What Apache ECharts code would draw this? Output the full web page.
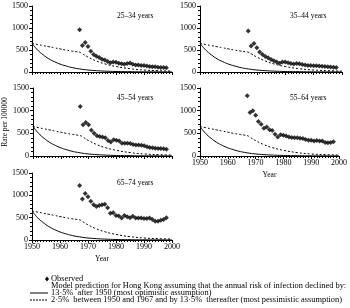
<!DOCTYPE html>
<html>
<head>
<meta charset="utf-8">
<script src="https://cdn.jsdelivr.net/npm/echarts@6/dist/echarts.min.js"></script>
<style>
  html, body { margin: 0; padding: 0; background: #fff; }
  #chart { width: 350px; height: 308px; }
</style>
</head>
<body>
<div id="chart"></div>
<script>
// observed years
const obsYears = [1967,1968,1969,1970,1971,1972,1973,1974,1975,1976,1977,1978,1979,1980,1981,1982,
  1983,1984,1985,1986,1987,1988,1989,1990,1991,1992,1993,1994,1995,1996,1997,1998];

// observed rates per 100000 for each age group
const obs2534 = [960,600,670,580,470,400,360,330,290,270,240,210,230,220,200,185,175,195,205,175,160,160,145,145,135,125,120,120,110,105,100,95];
const obs3544 = [930,590,650,550,455,395,355,325,285,255,230,200,225,230,210,195,180,195,190,170,160,150,150,140,140,135,130,125,120,115,110,105];
const obs4554 = [1090,690,740,690,570,500,445,430,420,400,340,310,360,350,330,280,280,280,275,255,240,240,235,225,205,190,180,170,165,165,160,150];
const obs5564 = [1330,960,1000,900,760,700,610,640,580,560,480,420,470,460,440,420,410,405,400,390,385,365,350,345,330,340,330,330,300,295,300,315];
const obs6574 = [1220,920,1040,970,870,790,750,770,790,800,720,600,610,550,540,490,550,520,500,530,490,490,490,480,480,490,460,420,420,440,460,500];

// model predictions (same in every panel)
const modelYears = [1950,1952,1954,1956,1958,1960,1962,1964,1966,1967,1968,1970,1973,1976,1980,1985,1990,1995,2000];
const optimistic = [650,500,390,300,235,180,140,105,80,70,60,45,30,20,12,7,4,3,2];
const pessimistic = [650,625,600,575,550,525,500,478,460,450,415,340,250,185,125,75,45,30,20];

const panelTitles = ['25\u201334 years','35\u201344 years','45\u201354 years','55\u201364 years','65\u201374 years'];
const panelObs = [obs2534, obs3544, obs4554, obs5564, obs6574];

const FONT = 'Liberation Serif, Times New Roman, serif';

const grids = [
  {left: 32, top: 6, width: 140, height: 66},
  {left: 200, top: 6, width: 142, height: 66},
  {left: 32, top: 88, width: 140, height: 68},
  {left: 200, top: 88, width: 142, height: 68},
  {left: 32, top: 173, width: 140, height: 67}
];
const showXLabels = [false, false, false, true, true];

const pair = (xs, ys) => xs.map((x, i) => [x, ys[i]]);

let chart = echarts.init(document.getElementById('chart'), null, {renderer: 'canvas'});

let xAxes = [], yAxes = [], series = [], titles = [];
grids.forEach((g, i) => {
  xAxes.push({
    gridIndex: i, type: 'value', min: 1950, max: 2000, interval: 10,
    axisLine: {lineStyle: {color: '#000', width: 1}},
    axisTick: {length: 3, lineStyle: {color: '#000'}},
    minorTick: {show: true, splitNumber: 10, length: 2, lineStyle: {color: '#000'}},
    axisLabel: {show: showXLabels[i], color: '#000', fontFamily: FONT, fontSize: 8, margin: 3,
      formatter: v => String(v)},
    splitLine: {show: false},
    name: showXLabels[i] ? 'Year' : '',
    nameLocation: 'middle', nameGap: 15,
    nameTextStyle: {color: '#000', fontFamily: FONT, fontSize: 7.5}
  });
  yAxes.push({
    gridIndex: i, type: 'value', min: 0, max: 1500, interval: 500,
    axisLine: {show: true, lineStyle: {color: '#000', width: 1}},
    axisTick: {show: true, length: 3, lineStyle: {color: '#000'}},
    minorTick: {show: true, splitNumber: 5, length: 2, lineStyle: {color: '#000'}},
    axisLabel: {color: '#000', fontFamily: FONT, fontSize: 8, margin: 4,
      formatter: v => String(v)},
    splitLine: {show: false},
    name: i === 2 ? 'Rate per 100000' : '',
    nameLocation: 'middle', nameGap: 24, nameRotate: 90,
    nameTextStyle: {color: '#000', fontFamily: FONT, fontSize: 7.5}
  });
  titles.push({
    text: panelTitles[i],
    left: g.left + (i % 2 === 0 ? 80 : 85), top: g.top + 1,
    textStyle: {color: '#000', fontFamily: FONT, fontSize: 7.5, fontWeight: 'normal'}
  });
  series.push({
    type: 'line', xAxisIndex: i, yAxisIndex: i, smooth: true, symbol: 'none',
    lineStyle: {color: '#000', width: 1}, data: pair(modelYears, optimistic), z: 2
  });
  series.push({
    type: 'line', xAxisIndex: i, yAxisIndex: i, smooth: true, symbol: 'none',
    lineStyle: {color: '#000', width: 1, type: [2, 2]}, data: pair(modelYears, pessimistic), z: 2
  });
  series.push({
    type: 'scatter', xAxisIndex: i, yAxisIndex: i, symbol: 'diamond', symbolSize: 5,
    itemStyle: {color: '#000'}, data: pair(obsYears, panelObs[i]), z: 3
  });
});

const legendText = (x, y, t) => ({
  type: 'text', left: x, top: y,
  style: {text: t, fill: '#000', font: '8.4px ' + FONT}
});

let option = {
  animation: false,
  title: titles,
  grid: grids,
  xAxis: xAxes,
  yAxis: yAxes,
  series: series,
  graphic: [
    {type: 'polygon', shape: {points: [[47, 276.5], [49, 279], [47, 281.5], [45, 279]]}, style: {fill: '#000'}},
    legendText(51, 274.5, 'Observed'),
    legendText(51, 281.5, 'Model prediction for Hong Kong assuming that the annual risk of infection declined by:'),
    {type: 'line', shape: {x1: 30, y1: 293, x2: 48, y2: 293}, style: {stroke: '#000', lineWidth: 1}},
    legendText(51, 288.5, '13\u00b75%  after 1950 (most optimistic assumption)'),
    {type: 'line', shape: {x1: 30, y1: 300, x2: 48, y2: 300}, style: {stroke: '#000', lineWidth: 1.2, lineDash: [2, 1]}},
    legendText(51, 295.5, '2\u00b75%  between 1950 and 1967 and by 13\u00b75%  thereafter (most pessimistic assumption)')
  ]
};

option && chart.setOption(option);
</script>
</body>
</html>
